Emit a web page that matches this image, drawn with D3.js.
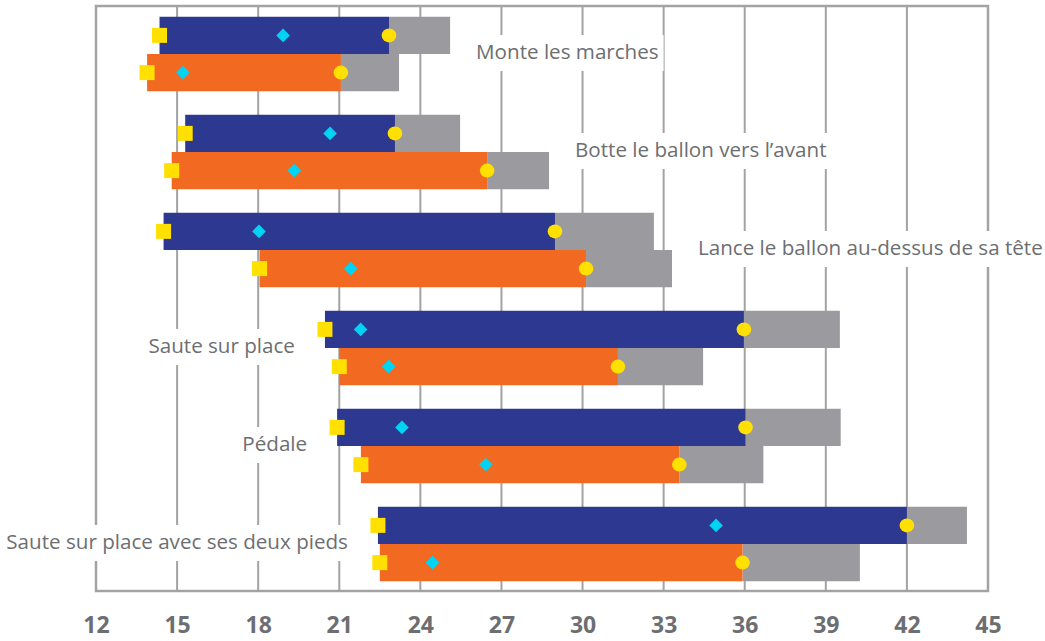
<!DOCTYPE html>
<html>
<head>
<meta charset="utf-8">
<script src="https://cdn.jsdelivr.net/npm/d3@7"></script>
<style>
  html, body { margin: 0; padding: 0; background: #fff; }
  svg { display: block; }
</style>
</head>
<body>
<svg id="chart" width="1045" height="641"></svg>
<script>
// ---- Data ----
const categories = [
  "Monte les marches",
  "Botte le ballon vers l’avant",
  "Lance le ballon au-dessus de sa tête",
  "Saute sur place",
  "Pédale",
  "Saute sur place avec ses deux pieds"
];
// series A (blue bars)
const blueMin    = [14.35, 15.30, 14.50, 20.47, 20.92, 22.43];
const blueMid    = [18.92, 20.66, 18.03, 21.79, 23.32, 34.94];
const blueEnd    = [22.84, 23.06, 28.98, 35.97, 36.03, 42.00];
const blueMax    = [25.10, 25.47, 32.64, 39.52, 39.55, 44.22];
// series B (orange bars)
const orangeMin  = [13.89, 14.80, 18.05, 21.00, 21.80, 22.50];
const orangeMid  = [15.22, 19.33, 21.43, 22.83, 26.42, 24.45];
const orangeEnd  = [21.06, 26.47, 30.13, 31.31, 33.58, 35.92];
const orangeMax  = [23.21, 28.76, 33.31, 34.46, 36.69, 40.26];
const tickValues = [12, 15, 18, 21, 24, 27, 30, 33, 36, 39, 42, 45];
const labelSide  = ["right", "right", "right", "left", "left", "left"];

// ---- Styles ----
const C = {
  blue: "#2d3990", orange: "#f26a22", gray: "#9b9a9e",
  yellow: "#ffe000", cyan: "#00d3f3", grid: "#a3a3a3", text: "#6d6e71"
};

const svg = d3.select("#chart");
const frameTop = 6, frameBottom = 591;

const x = d3.scaleLinear().domain([12, 45]).range([96, 988]);
const y = d3.scaleBand().domain(categories).range([5, 593])
  .paddingInner(0.24).paddingOuter(0.12);
const half = y.bandwidth() / 2;

// gridlines
svg.append("g").selectAll("line").data(tickValues).join("line")
  .attr("x1", d => x(d)).attr("x2", d => x(d))
  .attr("y1", frameTop).attr("y2", frameBottom)
  .attr("stroke", C.grid).attr("stroke-width", 2);

// frame
svg.append("rect")
  .attr("x", x(12)).attr("y", frameTop)
  .attr("width", x(45) - x(12)).attr("height", frameBottom - frameTop)
  .attr("fill", "none").attr("stroke", C.grid).attr("stroke-width", 2.5);

// category labels with white background
const labelG = svg.append("g");
categories.forEach((cat, i) => {
  const cy = y(cat) + half;
  const g = labelG.append("g");
  const bg = g.append("rect").attr("fill", "#fff");
  let tx, anchor;
  if (labelSide[i] === "right") {
    tx = x(Math.max(blueMax[i], orangeMax[i])) + 26; anchor = "start";
  } else {
    tx = x(Math.min(blueMin[i], orangeMin[i])) - 30; anchor = "end";
  }
  const t = g.append("text")
    .attr("x", tx).attr("y", cy + 5)
    .attr("text-anchor", anchor)
    .attr("font-family", "'Open Sans', 'Noto Sans', sans-serif")
    .attr("font-size", 20.6)
    .attr("fill", C.text)
    .text(cat);
  const bb = t.node().getBBox();
  bg.attr("x", bb.x - 5).attr("y", cy - 19)
    .attr("width", bb.width + 10).attr("height", 36);
});

// bars
const rows = categories.map((c, i) => ({
  c, i,
  series: [
    { key: "blue", off: -half, min: blueMin[i], mid: blueMid[i], end: blueEnd[i], max: blueMax[i], color: C.blue },
    { key: "orange", off: 0, min: orangeMin[i], mid: orangeMid[i], end: orangeEnd[i], max: orangeMax[i], color: C.orange }
  ]
}));

const barsG = svg.append("g");
rows.forEach(r => {
  const cy = y(r.c) + half;
  r.series.forEach(s => {
    const top = cy + s.off;
    barsG.append("rect")
      .attr("x", x(s.end)).attr("y", top)
      .attr("width", x(s.max) - x(s.end)).attr("height", half)
      .attr("fill", C.gray);
    barsG.append("rect")
      .attr("x", x(s.min)).attr("y", top)
      .attr("width", x(s.end) - x(s.min)).attr("height", half)
      .attr("fill", s.color);
  });
});

// markers
const markG = svg.append("g");
rows.forEach(r => {
  const cy = y(r.c) + half;
  r.series.forEach(s => {
    const my = cy + s.off + half / 2;
    markG.append("rect")
      .attr("x", x(s.min) - 7.5).attr("y", my - 7.5)
      .attr("width", 15).attr("height", 15)
      .attr("fill", C.yellow);
    markG.append("path")
      .attr("d", d3.symbol().type(d3.symbolDiamond2).size(118)())
      .attr("transform", `translate(${x(s.mid)},${my})`)
      .attr("fill", C.cyan);
    markG.append("ellipse")
      .attr("cx", x(s.end)).attr("cy", my)
      .attr("rx", 7.3).attr("ry", 7)
      .attr("fill", C.yellow);
  });
});

// x axis
const axisG = svg.append("g").attr("transform", `translate(0,${frameBottom})`)
  .call(d3.axisBottom(x).tickValues(tickValues).tickSize(0).tickFormat(d3.format("d")));
axisG.select(".domain").remove();
axisG.selectAll("text")
  .attr("y", 42).attr("dy", null)
  .attr("font-family", "'Open Sans', sans-serif")
  .attr("font-weight", "bold")
  .attr("font-size", 23)
  .attr("fill", C.text);
</script>
</body>
</html>
